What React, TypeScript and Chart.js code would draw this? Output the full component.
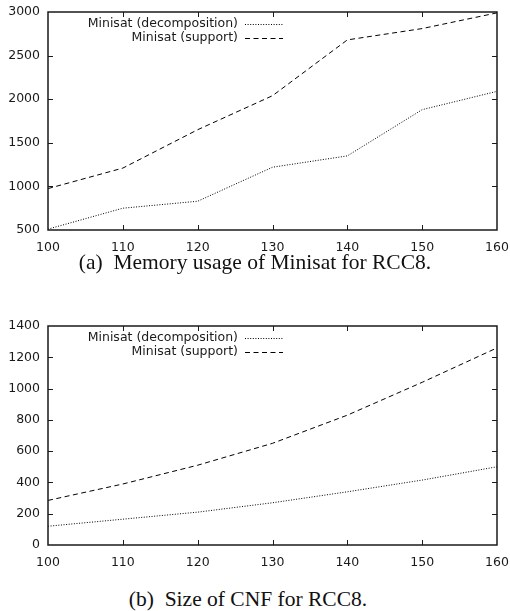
import React, { useEffect, useRef } from "react";
import { Chart, registerables } from "chart.js";

Chart.register(...registerables);

const xValues = [100, 110, 120, 130, 140, 150, 160];
const labelDecomp = "Minisat (decomposition)";
const labelSupport = "Minisat (support)";

const memDecomp = [510, 750, 830, 1220, 1350, 1880, 2090];
const memSupport = [975, 1210, 1650, 2040, 2680, 2810, 2990];

const cnfDecomp = [120, 165, 210, 270, 340, 415, 500];
const cnfSupport = [285, 390, 510, 650, 830, 1040, 1260];

const captionA = "(a)  Memory usage of Minisat for RCC8.";
const captionB = "(b)  Size of CNF for RCC8.";

const FONT = "'DejaVu Sans', sans-serif";
const FSIZE = 12.5;
const INK = "#1a1a1a";

const framePlugin = {
  id: "gnuframe",
  afterDatasetsDraw(chart: any) {
    const { ctx, chartArea } = chart;
    const { left, right, top, bottom } = chartArea;
    const xs = chart.scales.x;
    const ys = chart.scales.y;
    const tl = 5;
    ctx.save();
    ctx.strokeStyle = INK;
    ctx.lineWidth = 1;
    ctx.setLineDash([]);
    ctx.beginPath();
    xs.ticks.forEach((t: any) => {
      const px = Math.round(xs.getPixelForValue(t.value)) + 0.5;
      if (px <= left + 1 || px >= right - 1) return;
      ctx.moveTo(px, bottom);
      ctx.lineTo(px, bottom - tl);
      ctx.moveTo(px, top);
      ctx.lineTo(px, top + tl);
    });
    ys.ticks.forEach((t: any) => {
      const py = Math.round(ys.getPixelForValue(t.value)) + 0.5;
      if (py <= top + 1 || py >= bottom - 1) return;
      ctx.moveTo(left, py);
      ctx.lineTo(left + tl, py);
      ctx.moveTo(right, py);
      ctx.lineTo(right - tl, py);
    });
    ctx.stroke();
    ctx.lineWidth = 1.5;
    ctx.strokeRect(left, top, right - left, bottom - top);
    // legend
    ctx.font = `${FSIZE}px ${FONT}`;
    ctx.fillStyle = INK;
    ctx.textAlign = "right";
    ctx.textBaseline = "middle";
    chart.data.datasets.forEach((ds: any, i: number) => {
      const y = top + 12 + i * 14;
      ctx.fillText(ds.label, left + 190, y);
      ctx.beginPath();
      ctx.lineWidth = 1;
      ctx.strokeStyle = "#000";
      ctx.setLineDash(ds.borderDash || []);
      ctx.moveTo(left + 197, y + 0.5);
      ctx.lineTo(left + 235, y + 0.5);
      ctx.stroke();
    });
    ctx.restore();
  },
};

function LineChart(props: {
  decomp: number[];
  support: number[];
  yMin: number;
  yMax: number;
  yStep: number;
  padTop: number;
  width: number;
  height: number;
}) {
  const ref = useRef<HTMLCanvasElement | null>(null);
  useEffect(() => {
    const canvas = ref.current;
    if (!canvas) return;
    const chart = new Chart(canvas, {
      type: "line",
      data: {
        datasets: [
          {
            label: labelDecomp,
            data: xValues.map((x, i) => ({ x, y: props.decomp[i] })),
            borderColor: "#000",
            borderWidth: 1,
            borderDash: [1, 1.6],
            pointRadius: 0,
            tension: 0,
            fill: false,
          },
          {
            label: labelSupport,
            data: xValues.map((x, i) => ({ x, y: props.support[i] })),
            borderColor: "#000",
            borderWidth: 1,
            borderDash: [5, 3.5],
            pointRadius: 0,
            tension: 0,
            fill: false,
          },
        ],
      },
      options: {
        responsive: false,
        animation: false,
        devicePixelRatio: 1,
        layout: { padding: { top: props.padTop, right: 13, left: 0, bottom: 0 } },
        plugins: {
          legend: { display: false },
          tooltip: { enabled: false },
        },
        scales: {
          x: {
            type: "linear",
            min: 100,
            max: 160,
            border: { display: false },
            grid: { display: false, drawTicks: false },
            ticks: {
              stepSize: 10,
              padding: 10,
              color: INK,
              font: { family: FONT, size: FSIZE },
              maxRotation: 0,
              callback: (v: any) => String(v),
            },
            afterFit(scale: any) {
              scale.height = 22;
              scale.paddingLeft = 0;
              scale.paddingRight = 0;
            },
          },
          y: {
            type: "linear",
            min: props.yMin,
            max: props.yMax,
            border: { display: false },
            grid: { display: false, drawTicks: false },
            ticks: {
              stepSize: props.yStep,
              padding: 8,
              color: INK,
              font: { family: FONT, size: FSIZE },
              callback: (v: any) => String(v),
            },
            afterFit(scale: any) {
              scale.width = 48;
              scale.paddingTop = 0;
              scale.paddingBottom = 0;
            },
          },
        },
      },
      plugins: [framePlugin],
    } as any);
    return () => chart.destroy();
  }, []);
  return (
    <canvas
      ref={ref}
      width={props.width}
      height={props.height}
      style={{ display: "block", width: props.width, height: props.height }}
    />
  );
}

export default function App() {
  useEffect(() => {
    document.body.style.margin = "0";
  }, []);
  const capStyle: React.CSSProperties = {
    position: "absolute",
    left: 0,
    width: 510,
    textAlign: "center",
    fontFamily: "'Liberation Serif', 'Times New Roman', serif",
    fontSize: 21.5,
    color: "#111",
    whiteSpace: "pre",
    lineHeight: "22px",
  };
  return (
    <div style={{ position: "relative", width: 510, height: 611, background: "#fff", overflow: "hidden" }}>
      <div style={{ position: "absolute", left: 0, top: 0 }}>
        <LineChart decomp={memDecomp} support={memSupport} yMin={500} yMax={3000} yStep={500} padTop={12} width={510} height={252} />
      </div>
      <div style={{ ...capStyle, top: 251 }}>{captionA}</div>
      <div style={{ position: "absolute", left: 0, top: 310 }}>
        <LineChart decomp={cnfDecomp} support={cnfSupport} yMin={0} yMax={1400} yStep={200} padTop={16} width={510} height={257} />
      </div>
      <div style={{ ...capStyle, top: 588, left: -7 }}>{captionB}</div>
    </div>
  );
}
